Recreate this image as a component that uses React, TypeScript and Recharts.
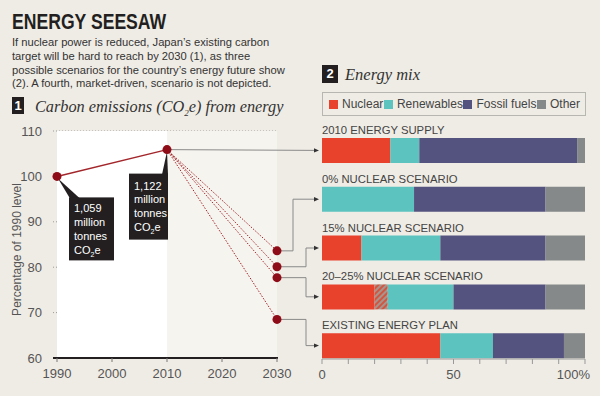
import React from "react";
import {
  Bar,
  BarChart,
  CartesianGrid,
  Line,
  LineChart,
  ReferenceArea,
  XAxis,
  YAxis,
} from "recharts";

// Panel 1: emissions, % of 1990 level
const historyYears = [1990, 2010];
const historyValues = [100, 105.9];
const historyLabels = ["1,059", "1,122"];
const scenarioYear = 2030;
const scenario2030 = [83.6, 80.1, 77.7, 68.5];
const yearTicks = [1990, 2000, 2010, 2020, 2030];
const pctOf1990Ticks = [60, 70, 80, 90, 100, 110];

// Panel 2: energy mix (%), one entry per row
const mixCategories = [
  "2010 ENERGY SUPPLY",
  "0% NUCLEAR SCENARIO",
  "15% NUCLEAR SCENARIO",
  "20–25% NUCLEAR SCENARIO",
  "EXISTING ENERGY PLAN",
];
const nuclear = [26, 0, 15, 20, 45];
const nuclearRange = [0, 0, 0, 5, 0];
const renewables = [11, 35, 30, 25, 20];
const fossil = [60, 50, 40, 35, 27];
const other = [3, 15, 15, 15, 8];
const mixTicks = [0, 10, 20, 30, 40, 50, 60, 70, 80, 90, 100];

const W = 600;
const H = 396;
const BG = "#efece5";
const INK = "#231f20";
const DOT = "#8e0c17";
const LINE = "#a3262b";
const GREY_LINE = "#8a8a8a";
const C_NUCLEAR = "#e8412c";
const C_RENEW = "#5cc3bf";
const C_FOSSIL = "#54527e";
const C_OTHER = "#858989";
const SANS = "'Liberation Sans', Arial, sans-serif";
const SERIF = "'Liberation Serif', 'Times New Roman', serif";

// layout of the bar panel, shared by the connectors drawn in panel 1
const MIX_TOP = 126;
const MIX_BOTTOM = 370;
const MIX_BAND = (MIX_BOTTOM - MIX_TOP) / mixCategories.length;
const barCenter = (i: number) => MIX_TOP + MIX_BAND * (i + 0.5);
const ELBOW_X = [293, 306, 306, 306];
const ARROW_X = 319;

const history = historyYears.map((year, i) => ({ year, value: historyValues[i] }));
const scenarios = scenario2030.map((v) => [
  { year: historyYears[1], value: historyValues[1] },
  { year: scenarioYear, value: v },
]);

const mixRows = mixCategories.map((name, i) => ({
  name,
  nuclear: nuclear[i],
  nuclearRange: nuclearRange[i],
  renewables: renewables[i],
  fossil: fossil[i],
  other: other[i],
}));

const legendItems = [
  { label: "Nuclear", color: C_NUCLEAR },
  { label: "Renewables", color: C_RENEW },
  { label: "Fossil fuels", color: C_FOSSIL },
  { label: "Other", color: C_OTHER },
];

function Arrow({ y }: { y: number }) {
  return (
    <polygon
      points={`${ARROW_X},${y} ${ARROW_X - 5},${y - 2.2} ${ARROW_X - 5},${y + 2.2}`}
      fill="#333"
    />
  );
}

const BOX_FONT = 11;

function Co2e({ x, y }: { x: number; y: number }) {
  return (
    <text x={x} y={y} fill="#fff" fontSize={BOX_FONT} fontFamily={SANS}>
      CO
      <tspan fontSize={7} dy={3}>
        2
      </tspan>
      <tspan dy={-3}>e</tspan>
    </text>
  );
}

function Annotation({ cx, cy, index }: { cx: number; cy: number; index: number }) {
  // box sits below-right of 1990, below-left of 2010
  const box =
    index === 0
      ? { x: cx + 12, y: cy + 21, w: 45, h: 63, tx: cx + 17 }
      : { x: cx - 38, y: cy + 24, w: 39, h: 66, tx: cx - 33 };
  const wedge =
    index === 0
      ? `${cx + 1},${cy + 2} ${cx + 13},${box.y + 1} ${cx + 23},${box.y + 1}`
      : `${cx},${cy + 2} ${cx - 5},${box.y + 1} ${cx + 1},${box.y + 1}`;
  const base = box.y + (index === 0 ? 15 : 16);
  const lines = [historyLabels[index], "million", "tonnes"];
  return (
    <g>
      <polygon points={wedge} fill={INK} />
      <rect x={box.x} y={box.y} width={box.w} height={box.h} fill={INK} />
      {lines.map((t, k) => (
        <text key={k} x={box.tx} y={base + 13.7 * k} fill="#fff" fontSize={BOX_FONT} fontFamily={SANS}>
          {t}
        </text>
      ))}
      <Co2e x={box.tx} y={base + 41.1} />
    </g>
  );
}

function historyDot(props: any) {
  const { cx, cy, index } = props;
  return (
    <g key={`h-${index}`}>
      <Annotation cx={cx} cy={cy} index={index} />
      {index === 1 ? (
        <>
          <line x1={cx} y1={cy} x2={ARROW_X - 4} y2={barCenter(0)} stroke={GREY_LINE} strokeWidth={1} />
          <Arrow y={barCenter(0)} />
        </>
      ) : null}
      <circle cx={cx} cy={cy} r={4.5} fill={DOT} />
    </g>
  );
}

function makeScenarioDot(s: number) {
  return (props: any) => {
    const { cx, cy, index } = props;
    if (index === 0) return <g key={`s-${s}-0`} />;
    const ty = barCenter(s + 1);
    const ex = ELBOW_X[s];
    return (
      <g key={`s-${s}-1`}>
        <polyline
          points={`${cx},${cy} ${ex},${cy} ${ex},${ty} ${ARROW_X - 4},${ty}`}
          fill="none"
          stroke={GREY_LINE}
          strokeWidth={1}
        />
        <Arrow y={ty} />
        <circle cx={cx} cy={cy} r={4.5} fill={DOT} />
      </g>
    );
  };
}

function YTitle(props: any) {
  const vb = props.viewBox;
  const x = vb.x + 21;
  const y = vb.y + vb.height / 2 + 5;
  return (
    <text
      x={x}
      y={y}
      transform={`rotate(-90 ${x} ${y})`}
      textAnchor="middle"
      fill="#555"
      fontSize={12}
      fontFamily={SANS}
    >
      Percentage of 1990 level
    </text>
  );
}

function MixLabel(props: any) {
  const { y, payload } = props;
  return (
    <text x={322} y={y - 16.5} fill="#444" fontSize={11.3} fontFamily={SANS}>
      {payload.value}
    </text>
  );
}

function PctTick(props: any) {
  const { x, y, payload } = props;
  const v = payload.value;
  if (v !== 0 && v !== 50 && v !== 100) return <g />;
  return (
    <text
      x={v === 100 ? x + 5 : x}
      y={y + 13}
      textAnchor={v === 100 ? "end" : "middle"}
      fill="#555"
      fontSize={13}
      fontFamily={SANS}
    >
      {v === 100 ? "100%" : v}
    </text>
  );
}

export default function App() {
  return (
    <div
      style={{
        position: "absolute",
        left: 0,
        top: 0,
        width: W,
        height: H,
        background: BG,
        overflow: "hidden",
        fontFamily: SANS,
        color: INK,
      }}
    >
      <div
        style={{
          position: "absolute",
          left: 12,
          top: 9,
          fontFamily: SANS,
          fontWeight: 700,
          fontSize: 22,
          lineHeight: "25px",
          transform: "scaleX(0.8)",
          transformOrigin: "left top",
          whiteSpace: "nowrap",
        }}
      >
        ENERGY SEESAW
      </div>
      <div
        style={{
          position: "absolute",
          left: 12,
          top: 36,
          fontSize: 11.2,
          lineHeight: "13.8px",
          color: "#333",
          whiteSpace: "nowrap",
        }}
      >
        If nuclear power is reduced, Japan’s existing carbon
        <br />
        target will be hard to reach by 2030 (1), as three
        <br />
        possible scenarios for the country’s energy future show
        <br />
        (2). A fourth, market-driven, scenario is not depicted.
      </div>

      <div
        style={{
          position: "absolute",
          left: 12,
          top: 97,
          width: 12,
          height: 17,
          background: INK,
          color: "#fff",
          fontWeight: 700,
          fontSize: 13,
          lineHeight: "17px",
          textAlign: "center",
        }}
      >
        1
      </div>
      <div
        style={{
          position: "absolute",
          left: 35,
          top: 96,
          fontFamily: SERIF,
          fontStyle: "italic",
          fontSize: 16.3,
          lineHeight: "22px",
          color: "#333",
          whiteSpace: "nowrap",
        }}
      >
        Carbon emissions (CO<sub style={{ fontSize: 9 }}>2</sub>e) from energy
      </div>

      <div
        style={{
          position: "absolute",
          left: 322,
          top: 65,
          width: 16,
          height: 18,
          background: INK,
          color: "#fff",
          fontWeight: 700,
          fontSize: 13,
          lineHeight: "18px",
          textAlign: "center",
        }}
      >
        2
      </div>
      <div
        style={{
          position: "absolute",
          left: 345,
          top: 64,
          fontFamily: SERIF,
          fontStyle: "italic",
          fontSize: 16.5,
          lineHeight: "22px",
          color: "#333",
        }}
      >
        Energy mix
      </div>

      <div
        style={{
          position: "absolute",
          left: 322,
          top: 92,
          width: 264,
          height: 24,
          boxSizing: "border-box",
          border: "1px solid #b8b6b0",
          display: "flex",
          alignItems: "center",
          justifyContent: "space-between",
          padding: "0 5px 0 6px",
          fontSize: 12,
          color: "#444",
        }}
      >
        {legendItems.map((it) => (
          <span key={it.label} style={{ display: "flex", alignItems: "center" }}>
            <span
              style={{
                display: "inline-block",
                width: 9,
                height: 9,
                background: it.color,
                marginRight: 4,
              }}
            />
            {it.label}
          </span>
        ))}
      </div>

      <div style={{ position: "absolute", left: 0, top: 0 }}>
        <LineChart
          width={W}
          height={H}
          margin={{ top: 131, right: 322, bottom: 8, left: 0 }}
        >
          <ReferenceArea x1={1990} x2={2010} y1={60} y2={110} fill="#ffffff" fillOpacity={1} stroke="none" />
          <ReferenceArea x1={2010} x2={2030} y1={60} y2={110} fill="#f6f4ef" fillOpacity={1} stroke="none" />
          <CartesianGrid vertical={false} stroke="#9a9a9a" strokeDasharray="1 2" />
          <XAxis
            type="number"
            dataKey="year"
            domain={[1990, 2030]}
            ticks={yearTicks}
            padding={{ left: 4, right: 1 }}
            allowDuplicatedCategory={false}
            axisLine={{ stroke: INK, strokeWidth: 2 }}
            tickLine={{ stroke: "#777" }}
            tickSize={4}
            tickMargin={7}
            tick={{ fill: "#555", fontSize: 13, fontFamily: SANS }}
            height={30}
          />
          <YAxis
            type="number"
            domain={[60, 110]}
            ticks={pctOf1990Ticks}
            width={53}
            axisLine={false}
            tickLine={false}
            tickMargin={5}
            tick={{ fill: "#555", fontSize: 13, fontFamily: SANS }}
            label={<YTitle />}
          />
          {scenarios.map((data, s) => (
            <Line
              key={s}
              data={data}
              dataKey="value"
              stroke={LINE}
              strokeWidth={1}
              strokeDasharray="1.5 1.5"
              dot={makeScenarioDot(s)}
              activeDot={false}
              isAnimationActive={false}
            />
          ))}
          <Line
            data={history}
            dataKey="value"
            stroke={LINE}
            strokeWidth={1.5}
            dot={historyDot}
            activeDot={false}
            isAnimationActive={false}
          />
        </LineChart>
      </div>

      <div style={{ position: "absolute", left: 0, top: 0 }}>
        <BarChart
          layout="vertical"
          width={W}
          height={H}
          data={mixRows}
          margin={{ top: MIX_TOP, right: 15, bottom: 7, left: 321 }}
          barSize={25}
        >
          <defs>
            <pattern
              id="hatch"
              width={4}
              height={4}
              patternUnits="userSpaceOnUse"
              patternTransform="rotate(45)"
            >
              <rect width={4} height={4} fill="#a3968f" />
              <rect width={2} height={4} fill="#d4553f" />
            </pattern>
          </defs>
          <XAxis
            type="number"
            domain={[0, 100]}
            ticks={mixTicks}
            axisLine={{ stroke: "#999" }}
            tickLine={{ stroke: "#999" }}
            tickSize={5}
            tick={<PctTick />}
            height={30}
          />
          <YAxis
            type="category"
            dataKey="name"
            width={1}
            padding={{ top: 0, bottom: -11 }}
            axisLine={false}
            tickLine={false}
            tickSize={2}
            tickMargin={0}
            interval={0}
            tick={<MixLabel />}
          />
          <Bar dataKey="nuclear" stackId="mix" fill={C_NUCLEAR} isAnimationActive={false} />
          <Bar dataKey="nuclearRange" stackId="mix" fill="url(#hatch)" isAnimationActive={false} />
          <Bar dataKey="renewables" stackId="mix" fill={C_RENEW} isAnimationActive={false} />
          <Bar dataKey="fossil" stackId="mix" fill={C_FOSSIL} isAnimationActive={false} />
          <Bar dataKey="other" stackId="mix" fill={C_OTHER} isAnimationActive={false} />
        </BarChart>
      </div>
    </div>
  );
}
